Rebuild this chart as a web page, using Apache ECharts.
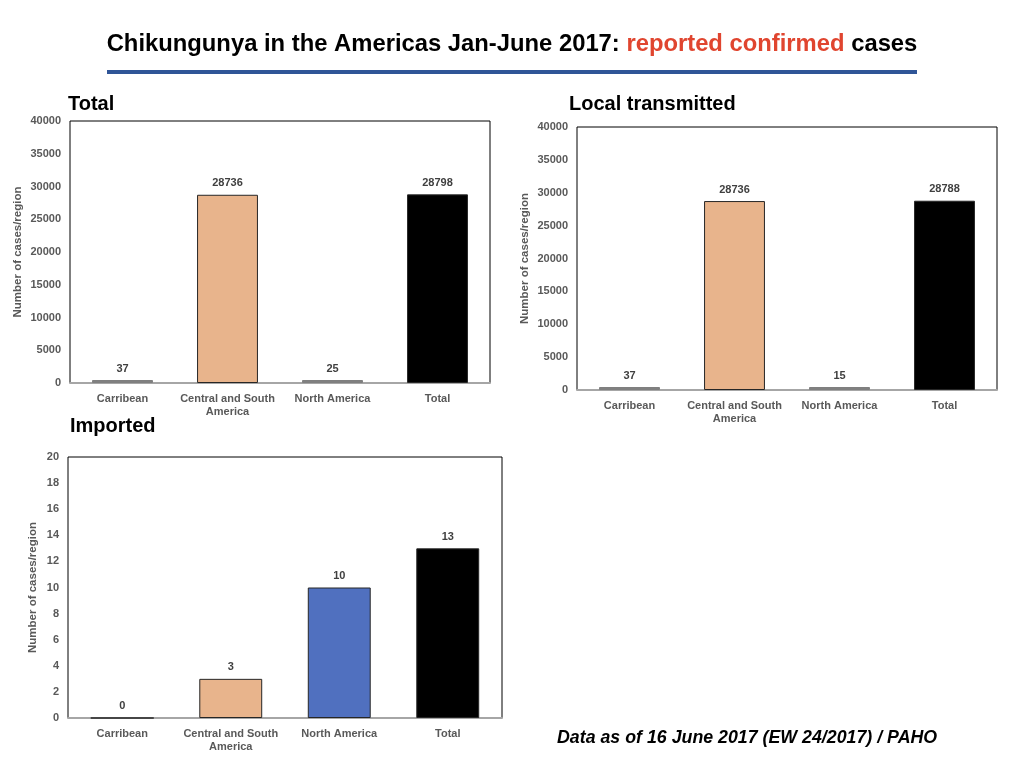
<!DOCTYPE html>
<html>
<head>
<meta charset="utf-8">
<script src="https://cdn.jsdelivr.net/npm/echarts@6/dist/echarts.min.js"></script>
<style>
  html, body { margin: 0; padding: 0; background: #fff; }
  #main { width: 1024px; height: 768px; }
</style>
</head>
<body>
<div id="main"></div>
<script>
var regions = ['Carribean', 'Central and South\nAmerica', 'North America', 'Total'];
var totalCases = [37, 28736, 25, 28798];
var localCases = [37, 28736, 15, 28788];
var importedCases = [0, 3, 10, 13];

var bigColors = ['#808080', '#e8b48c', '#808080', '#000000'];
var smallColors = ['#a5a5a5', '#e8b48c', '#5070bf', '#000000'];

var chart = echarts.init(document.getElementById('main'));

function makeGrid(left, top, width, height) {
  return {
    left: left, top: top, width: width, height: height,
    show: true, borderColor: '#000', borderWidth: 1, backgroundColor: '#fff'
  };
}

function makeX(idx) {
  return {
    type: 'category',
    gridIndex: idx,
    data: regions,
    axisTick: { show: false },
    axisLine: { lineStyle: { color: '#a6a6a6', width: 2 } },
    axisLabel: {
      color: '#595959', fontSize: 11, fontWeight: 'bold',
      fontFamily: 'Liberation Sans', margin: 9, lineHeight: 13, interval: 0
    }
  };
}

function makeY(idx, max, interval, nameGap) {
  return {
    type: 'value',
    gridIndex: idx,
    min: 0, max: max, interval: interval,
    name: 'Number of cases/region',
    nameLocation: 'middle',
    nameRotate: 90,
    nameGap: nameGap,
    nameTextStyle: { color: '#595959', fontSize: 11.5, fontWeight: 'bold', fontFamily: 'Liberation Sans' },
    axisLine: { show: false },
    axisTick: { show: false },
    splitLine: { show: false },
    axisLabel: {
      color: '#595959', fontSize: 11, fontWeight: 'bold',
      fontFamily: 'Liberation Sans', margin: 9,
      formatter: function (v) { return String(v); }
    }
  };
}

function makeBar(idx, values, colors) {
  return {
    type: 'bar',
    xAxisIndex: idx, yAxisIndex: idx,
    barWidth: '58%',
    barMinHeight: idx < 2 ? 3 : 0,
    data: values.map(function (v, i) {
      return {
        value: v,
        itemStyle: {
          color: colors[i],
          borderColor: (idx < 2 && (i === 0 || i === 2)) ? '#7f7f7f' : '#262626',
          borderWidth: 1
        }
      };
    }),
    label: {
      show: true, position: 'top', distance: 6,
      color: '#404040', fontSize: 11, fontWeight: 'bold', fontFamily: 'Liberation Sans'
    }
  };
}

var option = {
  animation: false,
  backgroundColor: '#fff',
  grid: [
    makeGrid(70, 121, 420, 262),
    makeGrid(577, 127, 420, 263),
    makeGrid(68, 457, 434, 261)
  ],
  xAxis: [makeX(0), makeX(1), makeX(2)],
  yAxis: [
    makeY(0, 40000, 5000, 46),
    makeY(1, 40000, 5000, 46),
    makeY(2, 20, 2, 29)
  ],
  series: [
    makeBar(0, totalCases, bigColors),
    makeBar(1, localCases, bigColors),
    makeBar(2, importedCases, smallColors)
  ],
  graphic: [
    {
      type: 'text', left: 'center', top: 32,
      style: {
        text: '{a|Chikungunya in the Americas Jan-June 2017: }{b|reported confirmed}{a| cases}',
        rich: {
          a: { fill: '#000', fontSize: 23.8, fontWeight: 'bold', fontFamily: 'Liberation Sans' },
          b: { fill: '#e0452f', fontSize: 23.8, fontWeight: 'bold', fontFamily: 'Liberation Sans' }
        }
      }
    },
    {
      type: 'rect',
      shape: { x: 107, y: 70, width: 810, height: 4 },
      style: { fill: '#2f5597' }
    },
    {
      type: 'text', left: 68, top: 94,
      style: { text: 'Total', fill: '#000', fontSize: 20, fontWeight: 'bold', fontFamily: 'Liberation Sans' }
    },
    {
      type: 'text', left: 569, top: 94,
      style: { text: 'Local transmitted', fill: '#000', fontSize: 20, fontWeight: 'bold', fontFamily: 'Liberation Sans' }
    },
    {
      type: 'text', left: 70, top: 416,
      style: { text: 'Imported', fill: '#000', fontSize: 20, fontWeight: 'bold', fontFamily: 'Liberation Sans' }
    },
    {
      type: 'text', left: 557, top: 729,
      style: {
        text: 'Data as of 16 June 2017 (EW 24/2017) / PAHO',
        fill: '#000', fontSize: 17.8, fontWeight: 'bold', fontStyle: 'italic', fontFamily: 'Liberation Sans'
      }
    }
  ]
};

chart.setOption(option);
</script>
</body>
</html>
